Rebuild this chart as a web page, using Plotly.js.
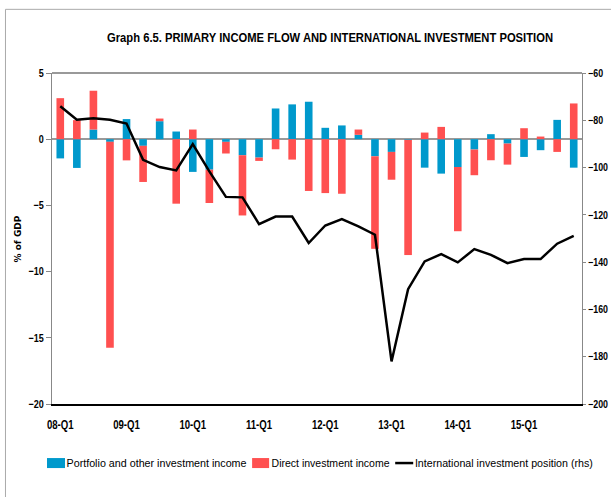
<!DOCTYPE html>
<html>
<head>
<meta charset="utf-8">
<script src="https://cdn.plot.ly/plotly-3.0.1.min.js"></script>
<style>html,body{margin:0;padding:0;background:#fff;}#chart{width:611px;height:497px;}</style>
</head>
<body>
<div id="chart"></div>
<script>
const quarters = [
  "08-Q1","08-Q2","08-Q3","08-Q4","09-Q1","09-Q2","09-Q3","09-Q4",
  "10-Q1","10-Q2","10-Q3","10-Q4","11-Q1","11-Q2","11-Q3","11-Q4",
  "12-Q1","12-Q2","12-Q3","12-Q4","13-Q1","13-Q2","13-Q3","13-Q4",
  "14-Q1","14-Q2","14-Q3","14-Q4","15-Q1","15-Q2","15-Q3","15-Q4"
];
const tickLabels = ["08-Q1","09-Q1","10-Q1","11-Q1","12-Q1","13-Q1","14-Q1","15-Q1"];
const portfolioIncome = [
  -1.45, -2.17, 0.73, -0.2, 1.52, -0.5, 1.36, 0.58,
  -2.47, -2.3, -0.2, -1.21, -1.39, 2.32, 2.63, 2.83,
  0.86, 1.04, 0.33, -1.29, -0.96, -0.05, -2.15, -2.6,
  -2.1, -0.78, 0.38, -0.33, -1.34, -0.83, 1.46, -2.15
];
const directIncome = [
  3.1, 1.44, 2.93, -15.55, -1.6, -2.73, 0.2, -4.87,
  0.73, -2.52, -0.88, -4.55, -0.25, -0.76, -1.54, -3.91,
  -4.07, -4.12, 0.4, -6.99, -2.1, -8.7, 0.5, 0.93,
  -4.85, -1.94, -1.59, -1.59, 0.83, 0.2, -0.96, 2.7
];
const iip = [
  -74.1, -79.8, -79.1, -79.8, -81.4, -96.7, -99.8, -101.2,
  -90.1, -101.6, -112.4, -112.6, -123.9, -120.7, -120.7, -131.9,
  -124.5, -121.8, -124.9, -128.4, -182.0, -151.4, -139.7, -136.6,
  -140.1, -134.5, -136.9, -140.4, -138.7, -138.7, -132.2, -128.9
];
const seriesNames = ["Portfolio and other investment income", "Direct investment income", "International investment position (rhs)"];
const seriesColors = ["#0099CC", "#FF5050", "#000000"];
const chartTitle = "Graph 6.5. PRIMARY INCOME FLOW AND INTERNATIONAL INVESTMENT POSITION";

const fontFam = "'Liberation Sans', Arial, sans-serif";

// plot-area pixel helpers (plot area: x 52..581.7, y 73.3..404)
const PL = 52, PW = 529.7, PT = 73.3, PH = 330.7;
const px = x => (x - PL) / PW;
const py = y => (PT + PH - y) / PH;

const traces = [
  {type:'bar', name:seriesNames[0], x:quarters, y:portfolioIncome,
   marker:{color:seriesColors[0]}, width:0.46},
  {type:'bar', name:seriesNames[1], x:quarters, y:directIncome,
   marker:{color:seriesColors[1]}, width:0.46},
  {type:'scatter', mode:'lines', name:seriesNames[2], x:quarters, y:iip,
   yaxis:'y2', line:{color:seriesColors[2], width:2.5}}
];

const legendY = 463;
const legendItems = [
  {sx0:47, sx1:65, tx:66, tw:180, kind:'rect'},
  {sx0:252, sx1:269, tx:271, tw:118, kind:'rect'},
  {sx0:395, sx1:413, tx:415, tw:178, kind:'line'}
];
const shapes = [
  {type:'line', xref:'paper', yref:'paper', x0:0, x1:1, y0:1, y1:1, line:{color:'#777', width:1.5}},
  {type:'line', xref:'paper', yref:'paper', x0:px(5.5), x1:px(620), y0:py(9.7), y1:py(9.7), line:{color:'#aaa', width:1}},
  {type:'line', xref:'paper', yref:'paper', x0:px(5.5), x1:px(5.5), y0:py(510), y1:py(9.7), line:{color:'#aaa', width:1}}
];
const annotations = [
  {xref:'paper', yref:'paper', x:px(18), y:0.5, xanchor:'center', yanchor:'middle', textangle:-90,
   text:'% of GDP', showarrow:false, font:{family:'DejaVu Sans', size:9, weight:'bold', color:'#000'}}
];
const legendTargets = {};
legendItems.forEach((it, i) => {
  if (it.kind === 'rect') {
    shapes.push({type:'rect', xref:'paper', yref:'paper', x0:px(it.sx0), x1:px(it.sx1), y0:py(legendY+5), y1:py(legendY-5),
      fillcolor:seriesColors[i], line:{width:0}});
  } else {
    shapes.push({type:'line', xref:'paper', yref:'paper', x0:px(it.sx0), x1:px(it.sx1), y0:py(legendY), y1:py(legendY),
      line:{color:seriesColors[i], width:2.5}});
  }
  legendTargets[seriesNames[i]] = it.tw;
  annotations.push({xref:'paper', yref:'paper', x:px(it.tx + it.tw/2), y:py(legendY), xanchor:'center', yanchor:'middle',
    text:seriesNames[i], showarrow:false, borderpad:0, font:{family:fontFam, size:11.5, color:'#000'}});
});

const layout = {
  width:611, height:497,
  margin:{l:PL, r:611-PL-PW, t:PT, b:497-PT-PH},
  paper_bgcolor:'#fff', plot_bgcolor:'#fff',
  barmode:'relative',
  showlegend:false,
  font:{family:fontFam, size:12, color:'#000'},
  title:{text:chartTitle,
    font:{family:fontFam, size:12.5, weight:'bold', color:'#000'},
    x:330/611, xanchor:'center', xref:'container', y:1-38/497, yref:'container', yanchor:'middle'},
  xaxis:{type:'category', tickmode:'array', tickvals:tickLabels, ticktext:tickLabels,
    showline:true, linecolor:'#000', linewidth:1.5, ticks:'outside', ticklen:9, tickcolor:'rgba(0,0,0,0)',
    showgrid:false, zeroline:false,
    tickfont:{family:fontFam, size:12, weight:'bold'}, tickangle:0, range:[-0.5, 31.5]},
  yaxis:{range:[-20,5], tickmode:'array', tickvals:[5,0,-5,-10,-15,-20],
    showline:true, linecolor:'#888', linewidth:1, ticks:'outside', ticklen:5, tickcolor:'#888',
    showgrid:false, zeroline:true, zerolinecolor:'#999', zerolinewidth:1.5,
    tickfont:{family:fontFam, size:11, weight:'bold'}},
  yaxis2:{overlaying:'y', side:'right', range:[-200,-60], tickmode:'array',
    tickvals:[-60,-80,-100,-120,-140,-160,-180,-200],
    showline:true, linecolor:'#888', linewidth:1, ticks:'outside', ticklen:3, tickcolor:'#888',
    showgrid:false, zeroline:false, tickfont:{family:fontFam, size:10.5, weight:'bold'}},
  shapes:shapes,
  annotations:annotations
};

function squeeze(nodes, fn) {
  nodes.forEach((n, i) => {
    const w = n.getComputedTextLength();
    const target = fn(w, i, n);
    if (target && target < w) {
      n.setAttribute('textLength', target.toFixed(1));
      n.setAttribute('lengthAdjust', 'spacingAndGlyphs');
    }
  });
}

Plotly.newPlot('chart', traces, layout, {displayModeBar:false, staticPlot:true}).then(gd => {
  const q = s => Array.from(gd.querySelectorAll(s));
  squeeze(q('.gtitle'), () => 446);
  squeeze(q('.xtick text'), w => w * 0.8);
  squeeze(q('.ytick text'), w => w * 0.82);
  squeeze(q('.y2tick text'), w => w * 0.84);
  squeeze(q('.annotation-text'), (w, i, n) => legendTargets[n.textContent] || null);
});
</script>
</body>
</html>
